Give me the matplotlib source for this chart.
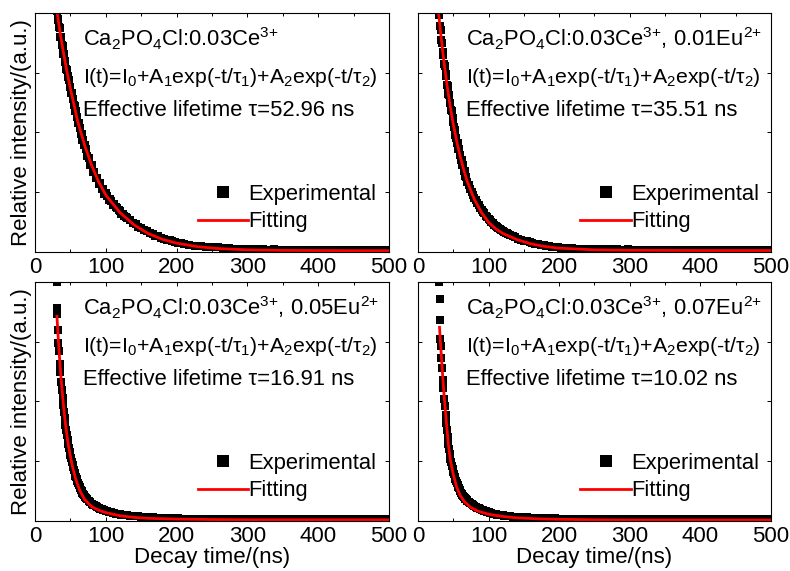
import numpy as np
import matplotlib.pyplot as plt
from matplotlib.ticker import MultipleLocator

plt.rcParams["font.family"] = "Liberation Sans"
plt.rcParams["mathtext.fontset"] = "custom"
plt.rcParams["mathtext.rm"] = "Liberation Sans"
plt.rcParams["mathtext.it"] = "Liberation Sans"
plt.rcParams["mathtext.default"] = "regular"

# sampling grid shared by all decay curves after 70 ns
t_mid = np.arange(72, 131, 2)
t_late = np.arange(134, 211, 4)
t_tail = np.arange(218, 499, 8)

# --- Ca2PO4Cl:0.03Ce3+ ---
tl_t_early = np.arange(31, 71)
tl_exp_early = [1.01, 0.97, 0.975, 0.94, 0.935, 0.90, 0.90, 0.865, 0.862, 0.83,
                0.828, 0.80, 0.796, 0.765, 0.762, 0.735, 0.733, 0.718, 0.69, 0.69,
                0.665, 0.665, 0.64, 0.64, 0.615, 0.612, 0.59, 0.59, 0.565, 0.563,
                0.54, 0.54, 0.517, 0.517, 0.494, 0.493, 0.47, 0.47, 0.446, 0.446]
tl_exp_mid = [0.43, 0.40, 0.395, 0.365, 0.362, 0.335, 0.335, 0.31, 0.31, 0.283,
              0.287, 0.262, 0.265, 0.242, 0.245, 0.236, 0.217, 0.222, 0.212, 0.195,
              0.20, 0.19, 0.183, 0.176, 0.17, 0.158, 0.16, 0.152, 0.148, 0.143]
tl_exp_late = [0.134, 0.121, 0.116, 0.104, 0.10, 0.092, 0.087, 0.078, 0.076, 0.068,
               0.066, 0.059, 0.056, 0.051, 0.05, 0.045, 0.043, 0.039, 0.038, 0.034]
tl_exp_tail = [0.03, 0.027, 0.024, 0.022, 0.02, 0.019, 0.016, 0.016, 0.014, 0.013,
               0.013, 0.012, 0.011, 0.012, 0.010, 0.011, 0.010, 0.009, 0.010, 0.009,
               0.010, 0.008, 0.009, 0.009, 0.008, 0.009, 0.008, 0.008, 0.009, 0.008,
               0.007, 0.008, 0.008, 0.007, 0.008, 0.007]
tl_t_fit = [30, 35, 40, 45, 50, 60, 70, 80, 90, 100, 120, 140, 160, 180, 200,
            230, 260, 300, 350, 400, 450, 500]
tl_fit = [1.026, 0.927, 0.837, 0.756, 0.684, 0.55, 0.448, 0.362, 0.293, 0.238,
          0.165, 0.113, 0.077, 0.053, 0.037, 0.022, 0.014, 0.009, 0.0065, 0.006,
          0.0055, 0.0053]

# --- 0.03Ce3+, 0.01Eu2+ ---
tr_t_early = np.arange(30, 71)
tr_exp_early = [0.99, 0.945, 0.93, 0.888, 0.875, 0.835, 0.826, 0.788, 0.78, 0.744,
                0.737, 0.70, 0.695, 0.66, 0.655, 0.625, 0.622, 0.593, 0.59, 0.56,
                0.545, 0.522, 0.512, 0.49, 0.478, 0.455, 0.454, 0.43, 0.43, 0.407,
                0.406, 0.384, 0.384, 0.362, 0.362, 0.34, 0.339, 0.316, 0.315, 0.292,
                0.291]
tr_exp_mid = [0.279, 0.265, 0.252, 0.24, 0.226, 0.217, 0.205, 0.197, 0.186, 0.177,
              0.167, 0.161, 0.151, 0.145, 0.136, 0.132, 0.124, 0.121, 0.113, 0.109,
              0.104, 0.101, 0.095, 0.092, 0.087, 0.085, 0.081, 0.079, 0.075, 0.073]
tr_exp_late = [0.067, 0.061, 0.056, 0.052, 0.047, 0.044, 0.04, 0.037, 0.034, 0.032,
               0.029, 0.028, 0.025, 0.024, 0.022, 0.021, 0.02, 0.018, 0.018, 0.016]
tr_exp_tail = [0.015, 0.014, 0.013, 0.013, 0.012, 0.012, 0.011, 0.012, 0.011, 0.010,
               0.011, 0.010, 0.010, 0.009, 0.010, 0.009, 0.010, 0.009, 0.009, 0.010,
               0.009, 0.009, 0.008, 0.009, 0.009, 0.008, 0.009, 0.008, 0.009, 0.008,
               0.009, 0.008, 0.008, 0.009, 0.008, 0.008]
tr_t_fit = [29, 32, 35, 38, 41, 44, 47, 50, 55, 60, 65, 70, 80, 90, 100, 110, 120,
            140, 160, 180, 200, 250, 300, 400, 500]
tr_fit = [1.005, 0.919, 0.84, 0.767, 0.701, 0.641, 0.586, 0.535, 0.461, 0.397,
          0.342, 0.293, 0.219, 0.165, 0.124, 0.097, 0.078, 0.052, 0.034, 0.023,
          0.016, 0.009, 0.007, 0.006, 0.006]

# --- 0.03Ce3+, 0.05Eu2+ ---
bl_t_early = [30.5, 31, 31.5] + list(range(32, 71))
bl_exp_early = [1.0, 0.89, 0.865,
                0.80, 0.745, 0.71, 0.655, 0.625, 0.58, 0.55, 0.515, 0.485,
                0.455, 0.43, 0.40, 0.382, 0.36, 0.34, 0.32, 0.305, 0.29, 0.276,
                0.262, 0.248, 0.236, 0.224, 0.213, 0.202, 0.19, 0.183, 0.174, 0.166,
                0.157, 0.15, 0.141, 0.136, 0.13, 0.125, 0.119, 0.114, 0.108, 0.102]
bl_exp_mid = [0.097, 0.09, 0.085, 0.078, 0.073, 0.068, 0.065, 0.061, 0.058, 0.054,
              0.052, 0.049, 0.047, 0.044, 0.042, 0.041, 0.039, 0.037, 0.036, 0.034,
              0.033, 0.031, 0.030, 0.029, 0.028, 0.027, 0.026, 0.025, 0.024, 0.023]
bl_exp_late = [0.022, 0.021, 0.019, 0.019, 0.018, 0.017, 0.016, 0.016, 0.015, 0.014,
               0.014, 0.013, 0.013, 0.012, 0.012, 0.011, 0.011, 0.011, 0.010, 0.010]
bl_exp_tail = [0.010, 0.009, 0.010, 0.009, 0.009, 0.008, 0.009, 0.008, 0.009, 0.008,
               0.008, 0.009, 0.008, 0.008, 0.007, 0.008, 0.008, 0.007, 0.008, 0.008,
               0.007, 0.008, 0.007, 0.008, 0.007, 0.008, 0.007, 0.007, 0.008, 0.007,
               0.007, 0.008, 0.007, 0.007, 0.008, 0.007]
bl_t_fit = [31, 33, 35, 37, 40, 43, 47, 52, 57, 63, 70, 80, 90, 100, 120, 140, 160,
            200, 250, 300, 400, 500]
bl_fit = [0.856, 0.756, 0.668, 0.59, 0.49, 0.406, 0.318, 0.24, 0.18, 0.129, 0.09,
          0.06, 0.045, 0.035, 0.022, 0.015, 0.011, 0.008, 0.006, 0.005, 0.005, 0.005]

# --- 0.03Ce3+, 0.07Eu2+ ---
br_t_early = [30, 30.5, 31, 31.5] + list(range(32, 71))
br_exp_early = [1.0, 0.93, 0.84, 0.76,
                0.73, 0.68, 0.64, 0.59, 0.555, 0.51, 0.48, 0.445, 0.41,
                0.38, 0.35, 0.32, 0.30, 0.28, 0.26, 0.246, 0.232, 0.219, 0.206,
                0.196, 0.186, 0.176, 0.166, 0.157, 0.15, 0.143, 0.137, 0.13, 0.124,
                0.119, 0.114, 0.11, 0.106, 0.101, 0.097, 0.094, 0.091, 0.088, 0.085]
br_exp_mid = [0.080, 0.075, 0.071, 0.067, 0.063, 0.059, 0.056, 0.053, 0.05, 0.047,
              0.045, 0.042, 0.04, 0.038, 0.036, 0.034, 0.033, 0.031, 0.030, 0.029,
              0.027, 0.026, 0.025, 0.024, 0.023, 0.022, 0.021, 0.021, 0.020, 0.019]
br_exp_late = [0.018, 0.017, 0.017, 0.016, 0.015, 0.015, 0.014, 0.014, 0.013, 0.013,
               0.012, 0.012, 0.012, 0.011, 0.011, 0.011, 0.010, 0.010, 0.010, 0.010]
br_exp_tail = [0.010, 0.010, 0.009, 0.010, 0.009, 0.009, 0.010, 0.009, 0.009, 0.008,
               0.009, 0.009, 0.008, 0.009, 0.009, 0.008, 0.009, 0.008, 0.008, 0.009,
               0.008, 0.008, 0.009, 0.008, 0.008, 0.008, 0.009, 0.008, 0.008, 0.008,
               0.009, 0.008, 0.008, 0.008, 0.008, 0.008]
br_t_fit = [30.5, 31, 33, 35, 37, 40, 43, 46, 50, 55, 60, 66, 75, 85, 100, 120, 140,
            170, 200, 250, 300, 400, 500]
br_fit = [0.81, 0.785, 0.695, 0.605, 0.525, 0.42, 0.32, 0.252, 0.195, 0.14, 0.106,
          0.08, 0.056, 0.041, 0.028, 0.019, 0.013, 0.009, 0.007, 0.005, 0.004, 0.004,
          0.004]

samples = [r"Ca$_2$PO$_4$Cl:0.03Ce$^{3{+}}$",
           r"Ca$_2$PO$_4$Cl:0.03Ce$^{3{+}}$, 0.01Eu$^{2{+}}$",
           r"Ca$_2$PO$_4$Cl:0.03Ce$^{3{+}}$, 0.05Eu$^{2{+}}$",
           r"Ca$_2$PO$_4$Cl:0.03Ce$^{3{+}}$, 0.07Eu$^{2{+}}$"]
lifetimes = ["52.96", "35.51", "16.91", "10.02"]
equation = r"I(t)=I$_0$+A$_1$exp(-t/τ$_1$)+A$_2$exp(-t/τ$_2$)"

panels = [
    (tl_t_early, [tl_exp_early, tl_exp_mid, tl_exp_late, tl_exp_tail], tl_t_fit, tl_fit),
    (tr_t_early, [tr_exp_early, tr_exp_mid, tr_exp_late, tr_exp_tail], tr_t_fit, tr_fit),
    (bl_t_early, [bl_exp_early, bl_exp_mid, bl_exp_late, bl_exp_tail], bl_t_fit, bl_fit),
    (br_t_early, [br_exp_early, br_exp_mid, br_exp_late, br_exp_tail], br_t_fit, br_fit),
]

fig = plt.figure(figsize=(7.9, 5.71), dpi=100)
rects = [[0.0443, 0.5587, 0.4481, 0.4186],
         [0.5291, 0.5587, 0.4468, 0.4186],
         [0.0443, 0.0876, 0.4481, 0.4186],
         [0.5291, 0.0876, 0.4468, 0.4186]]

for i, (t_early, exp_parts, t_fit, fit) in enumerate(panels):
    ax = fig.add_axes(rects[i])
    t_exp = np.concatenate([t_early, t_mid, t_late, t_tail])
    exp_v = np.concatenate(exp_parts)

    ax.plot(t_exp, exp_v, "s", color="black", markersize=5.8, markeredgewidth=0,
            label="Experimental")
    ax.plot(t_fit, fit, "-", color="red", lw=2, label="Fitting")

    ax.set_xlim(0, 500)
    ax.set_ylim(0, 1)
    ax.xaxis.set_major_locator(MultipleLocator(100))
    ax.xaxis.set_minor_locator(MultipleLocator(50))
    ax.yaxis.set_major_locator(MultipleLocator(0.25))
    ax.tick_params(which="both", direction="in", top=True, right=True,
                   labelleft=False, width=0.7, labelsize=16, pad=3.5)
    ax.tick_params(which="major", length=3)
    ax.tick_params(which="minor", length=2)
    for sp in ax.spines.values():
        sp.set_linewidth(0.8)

    ax.text(0.136, 0.86, samples[i], transform=ax.transAxes, fontsize=15.8,
            va="baseline")
    ax.text(0.136, 0.708, equation, transform=ax.transAxes, fontsize=15.3,
            va="baseline")
    ax.text(0.136, 0.57, "Effective lifetime τ=%s ns" % lifetimes[i],
            transform=ax.transAxes, fontsize=15.8, va="baseline")

    ax.legend(loc="upper left", bbox_to_anchor=(0.46, 0.285), frameon=False,
              fontsize=15.8, handlelength=2.3, handletextpad=0.0,
              borderaxespad=0, borderpad=0, labelspacing=0.3, markerscale=1.55)

    if i % 2 == 0:
        ax.set_ylabel("Relative intensity/(a.u.)", fontsize=16, labelpad=2)
    if i >= 2:
        ax.set_xlabel("Decay time/(ns)", fontsize=16, labelpad=0)

fig.savefig("out.png", dpi=100)
